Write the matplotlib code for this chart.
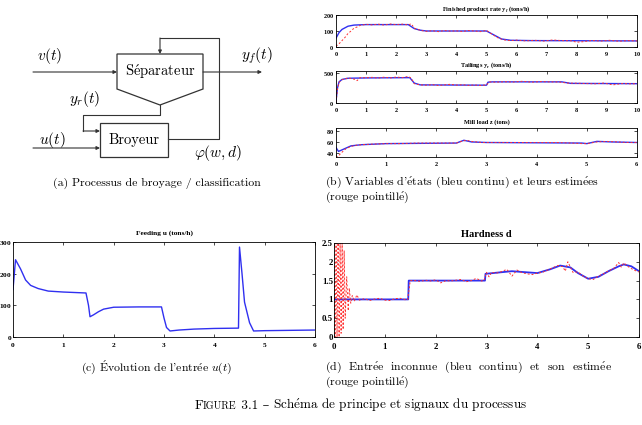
import matplotlib
matplotlib.use("Agg")
import matplotlib.pyplot as plt
from matplotlib.patches import Polygon, Rectangle
from matplotlib.offsetbox import TextArea, HPacker, AnnotationBbox

plt.rcParams['mathtext.fontset'] = 'cm'
plt.rcParams['axes.formatter.use_mathtext'] = True
SERIF = ['cmr10', 'DejaVu Serif']
TIMES = 'Liberation Serif'

# ---- (b) finished product rate y_f
yf_t = [0, 0.1, 0.2, 0.4, 0.6, 1.0, 2.4, 2.6, 2.8, 3.0, 5.0, 5.3, 5.5, 5.8, 6.5, 10.0]
yf_true = [55, 90, 110, 130, 137, 140, 140, 115, 105, 100, 100, 70, 50, 42, 40, 38]
yf_est_t = [0, 0.1, 0.2, 0.3, 0.4, 0.5, 0.6, 0.7, 0.8, 1.0, 1.2, 1.4, 1.6, 1.8, 2.0, 2.2,
            2.4, 2.5, 2.6, 2.8, 3.0, 3.2, 3.4, 3.6, 3.8, 4.0, 4.2, 4.4, 4.6, 4.8, 5.0,
            5.2, 5.4, 5.6, 5.8, 6.0, 6.3, 6.6, 6.9, 7.2, 7.5, 7.8, 8.0, 8.2, 8.5, 8.8,
            9.1, 9.4, 9.7, 10.0]
yf_est = [5, 20, 40, 60, 85, 100, 118, 125, 135, 142, 138, 143, 137, 144, 140, 143,
          138, 145, 118, 104, 98, 102, 96, 103, 99, 101, 97, 103, 100, 96, 104,
          78, 55, 44, 40, 43, 38, 42, 37, 44, 40, 39, 30, 33, 41, 37,
          42, 36, 40, 38]

# ---- (b) tailings y_r
yr_t = [0, 0.05, 0.1, 0.2, 0.4, 1.0, 2.45, 2.6, 2.8, 5.0, 5.05, 5.2, 7.5, 7.8, 10.0]
yr_true = [30, 250, 350, 390, 410, 415, 420, 330, 300, 295, 345, 350, 350, 325, 320]
yr_est_t = [0, 0.05, 0.1, 0.2, 0.3, 0.4, 0.6, 0.7, 0.8, 1.0, 1.2, 1.4, 1.6, 1.8, 2.0,
            2.2, 2.4, 2.5, 2.6, 2.8, 3.0, 3.2, 3.4, 3.6, 3.8, 4.0, 4.2, 4.4, 4.6, 4.8,
            5.0, 5.1, 5.3, 5.6, 5.9, 6.2, 6.5, 6.8, 7.1, 7.4, 7.7, 8.0, 8.3, 8.6, 8.9,
            9.2, 9.5, 9.8, 10.0]
yr_est = [20, 230, 340, 385, 400, 415, 395, 370, 420, 418, 425, 412, 428, 415, 430,
          420, 440, 410, 320, 300, 295, 305, 290, 300, 310, 296, 303, 292, 298, 290,
          300, 350, 345, 352, 348, 360, 345, 355, 350, 348, 330, 328, 322, 318, 330,
          300, 322, 318, 320]

# ---- (b) mill load z
z_t = [0, 0.05, 0.15, 0.3, 0.5, 1.0, 2.4, 2.55, 2.7, 3.0, 4.9, 5.0, 5.2, 5.5, 6.0]
z_true = [50, 43, 47, 53, 55, 57, 58, 63, 60, 59, 58, 57, 61, 60, 59]
z_est_t = [0, 0.05, 0.1, 0.2, 0.3, 0.4, 0.5, 0.7, 1.0, 1.3, 1.6, 2.0, 2.4, 2.5, 2.6,
           2.7, 2.9, 3.2, 3.5, 3.8, 4.1, 4.4, 4.7, 4.9, 5.0, 5.2, 5.4, 5.6, 5.8, 6.0]
z_est = [32, 35, 40, 48, 52, 54, 55, 56, 57, 57, 58, 58, 58, 61, 63,
         61, 59, 59, 59, 59, 59, 59, 58, 57, 57, 60, 61, 60, 59, 59]

# ---- (c) feeding u
u_t = [0, 0.05, 0.15, 0.25, 0.35, 0.5, 0.7, 1.0, 1.45, 1.5, 1.53, 1.6, 1.7, 1.8, 2.0,
       2.5, 2.95, 3.0, 3.05, 3.12, 3.3, 3.6, 4.0, 4.48, 4.5, 4.55, 4.6, 4.7, 4.78, 5.0, 6.0]
u_val = [150, 244, 215, 180, 163, 153, 145, 142, 139, 100, 64, 70, 80, 88, 94,
         95, 95, 60, 30, 19, 22, 25, 27, 28, 284, 200, 110, 45, 19, 20, 22]

# ---- (d) hardness d
d_t = [0, 1.46, 1.47, 2.97, 2.98, 3.2, 3.5, 3.8, 4.0, 4.25, 4.45, 4.65, 4.8, 5.0, 5.2,
       5.4, 5.6, 5.7, 5.85, 6.0]
d_true = [1.0, 1.0, 1.5, 1.5, 1.68, 1.71, 1.75, 1.72, 1.7, 1.8, 1.9, 1.85, 1.7, 1.55, 1.6,
          1.75, 1.88, 1.93, 1.88, 1.75]
d_est_t = [0, 0.02, 0.04, 0.06, 0.08, 0.1, 0.12, 0.14, 0.16, 0.18, 0.2, 0.22, 0.25,
           0.28, 0.3, 0.33, 0.36, 0.4, 0.45, 0.5, 0.6, 0.7, 0.8, 0.9, 1.0, 1.1, 1.2,
           1.3, 1.4, 1.45, 1.5, 1.6, 1.7, 1.8, 1.9, 2.0, 2.1, 2.2, 2.3, 2.4, 2.5, 2.6,
           2.7, 2.8, 2.9, 2.95, 3.0, 3.05, 3.1, 3.2, 3.3, 3.4, 3.5, 3.6, 3.7, 3.8, 3.9,
           4.0, 4.1, 4.2, 4.3, 4.4, 4.5, 4.55, 4.6, 4.7, 4.8, 4.9, 5.0, 5.1, 5.2, 5.3,
           5.4, 5.5, 5.6, 5.65, 5.7, 5.8, 5.9, 6.0]
d_est = [2.5, 0.0, 2.5, 0.0, 2.5, 0.0, 2.5, 0.1, 2.5, 0.2, 2.3, 0.5, 1.6,
         0.7, 1.3, 0.9, 1.1, 0.95, 1.12, 0.98, 1.02, 0.97, 1.01, 1.03, 0.98, 0.97, 1.02,
         1.03, 0.99, 1.0, 1.5, 1.5, 1.48, 1.51, 1.49, 1.52, 1.44, 1.5, 1.49, 1.51, 1.53, 1.47,
         1.5, 1.56, 1.49, 1.5, 1.72, 1.6, 1.72, 1.7, 1.74, 1.8, 1.62, 1.78, 1.71, 1.68, 1.66,
         1.7, 1.72, 1.78, 1.84, 1.9, 1.87, 1.75, 2.0, 1.72, 1.73, 1.62, 1.55, 1.53, 1.62, 1.68,
         1.76, 1.82, 1.98, 1.86, 1.97, 1.86, 1.78, 1.73]

BLUE = '#3030f0'
RED = '#ff3030'
W, H = 642, 425


def box(x0, y0, x1, y1):
    return [x0 / W, 1 - y1 / H, (x1 - x0) / W, (y1 - y0) / H]


def acc(s):
    # cmr10 has no accented letters: build them with mathtext accents
    return (s.replace('é', r'$\mathrm{\acute{e}}$')
             .replace('É', r'$\mathrm{\acute{E}}$'))


def matlab_axes(ax, fs, xt, yt, pad=1.2, xpad=None):
    ax.set_xticks(xt)
    ax.set_yticks(yt)
    ax.tick_params(direction='in', top=True, right=True, length=2, width=0.5,
                   pad=pad, labelsize=fs)
    if xpad is not None:
        ax.tick_params(axis='x', pad=xpad)
    for lab in ax.get_xticklabels() + ax.get_yticklabels():
        lab.set_family(TIMES)
        lab.set_weight('bold')
    for s in ax.spines.values():
        s.set_linewidth(0.6)


fig = plt.figure(figsize=(6.42, 4.25), dpi=100)
cv = fig.add_axes([0, 0, 1, 1])
cv.set_xlim(0, W)
cv.set_ylim(H, 0)
cv.axis('off')

# ---------------- (a) block diagram
lc = '#333333'
cv.add_patch(Polygon([(117, 54), (203, 54), (203, 89), (160, 105), (117, 89)],
                     closed=True, fill=False, ec=lc, lw=0.9))
cv.add_patch(Rectangle((100, 123), 68, 34, fill=False, ec=lc, lw=0.9))
ap = dict(arrowstyle='-|>', color=lc, lw=0.8, mutation_scale=5, shrinkA=0, shrinkB=0)
cv.annotate('', xy=(117, 72), xytext=(33, 72), arrowprops=ap)
cv.annotate('', xy=(262, 72), xytext=(203, 72), arrowprops=ap)
cv.plot([168, 219, 219, 160], [139, 139, 38, 38], color=lc, lw=0.8)
cv.annotate('', xy=(160, 54), xytext=(160, 38), arrowprops=ap)
cv.plot([160, 160, 83, 83], [105, 115, 115, 131], color=lc, lw=0.8)
cv.annotate('', xy=(100, 131), xytext=(83, 131), arrowprops=ap)
cv.annotate('', xy=(100, 148), xytext=(33, 148), arrowprops=ap)
cv.text(160, 72, acc('Séparateur'), family=SERIF, fontsize=10.5, ha='center', va='center')
cv.text(134, 140, 'Broyeur', family=SERIF, fontsize=10.5, ha='center', va='center')
cv.text(50, 56, r'$v(t)$', fontsize=11, ha='center', va='center')
cv.text(257, 56, r'$y_f(t)$', fontsize=11, ha='center', va='center')
cv.text(85, 99, r'$y_r(t)$', fontsize=11, ha='center', va='center')
cv.text(52, 140, r'$u(t)$', fontsize=11, ha='center', va='center')
cv.text(218, 153, r'$\varphi(w,d)$', fontsize=11, ha='center', va='center')

# ---------------- captions
cap = dict(family=SERIF, fontsize=8.5, va='center')
cv.text(157, 183, '(a) Processus de broyage / classification', ha='center', **cap)
cv.text(325, 182, acc("(b) Variables d'états (bleu continu) et leurs estimées"), ha='left', **cap)
cv.text(325, 197, acc('(rouge pointillé)'), ha='left', **cap)
cv.text(157, 367, acc("(c) Évolution de l'entrée $u(t)$"), ha='center', **cap)
cv.text(325, 367, acc("(d)  Entrée  inconnue  (bleu  continu)  et  son  estimée"), ha='left', **cap)
cv.text(325, 382, acc('(rouge pointillé)'), ha='left', **cap)

parts = [TextArea('F', textprops=dict(family=SERIF, fontsize=9.5)),
         TextArea('IGURE', textprops=dict(family=SERIF, fontsize=7.3)),
         TextArea(' 3.1 – ', textprops=dict(family=SERIF, fontsize=9.5)),
         TextArea(acc('Schéma de principe et signaux du processus'),
                  textprops=dict(family=SERIF, fontsize=9.5))]
pack = HPacker(children=parts, align='baseline', pad=0, sep=0)
cv.add_artist(AnnotationBbox(pack, (361, 405), frameon=False, box_alignment=(0.5, 0.5)))

# ---------------- (b) three small plots
ax1 = fig.add_axes(box(336, 15, 637, 47))
ax1.plot(yf_t, yf_true, color=BLUE, lw=1.0)
ax1.plot(yf_est_t, yf_est, color=RED, lw=0.7, ls=(0, (2, 2)))
ax1.set_xlim(0, 10)
ax1.set_ylim(0, 200)
matlab_axes(ax1, 4.5, range(0, 11), [0, 100, 200], xpad=1.8)
ax1.set_title(r'Finished product rate $\mathbf{y_f}$ (tons/h)', fontsize=4.5,
              family=TIMES, weight='bold', pad=3)

ax2 = fig.add_axes(box(336, 71, 637, 103))
ax2.plot(yr_t, yr_true, color=BLUE, lw=1.0)
ax2.plot(yr_est_t, yr_est, color=RED, lw=0.7, ls=(0, (2, 2)))
ax2.set_xlim(0, 10)
ax2.set_ylim(0, 530)
matlab_axes(ax2, 4.5, range(0, 11), [0, 500], xpad=1.8)
ax2.set_title(r'Tailings $\mathbf{y_r}$ (tons/h)', fontsize=4.5,
              family=TIMES, weight='bold', pad=3)

ax3 = fig.add_axes(box(336, 128, 637, 157))
ax3.plot(z_t, z_true, color=BLUE, lw=1.0)
ax3.plot(z_est_t, z_est, color=RED, lw=0.7, ls=(0, (2, 2)))
ax3.set_xlim(0, 6)
ax3.set_ylim(33, 85)
matlab_axes(ax3, 4.5, range(0, 7), [40, 60, 80], xpad=1.8)
ax3.set_title('Mill load z (tons)', fontsize=4.5, family=TIMES, weight='bold', pad=3)

# ---------------- (c) feeding
axc = fig.add_axes(box(13, 242, 315, 337))
axc.plot(u_t, u_val, color=BLUE, lw=1.0)
axc.set_xlim(0, 6)
axc.set_ylim(0, 300)
matlab_axes(axc, 5.3, range(0, 7), [0, 100, 200, 300], pad=0.6, xpad=3.0)
axc.set_title('Feeding u (tons/h)', fontsize=5.3, family=TIMES, weight='bold', pad=5)

# ---------------- (d) hardness
axd = fig.add_axes(box(334, 243, 639, 337))
axd.plot(d_t, d_true, color=BLUE, lw=1.3)
axd.plot(d_est_t, d_est, color=RED, lw=0.7, ls=(0, (2, 2)))
axd.set_xlim(0, 6)
axd.set_ylim(0, 2.5)
matlab_axes(axd, 6.3, range(0, 7), [0, 0.5, 1, 1.5, 2, 2.5], pad=0.8, xpad=3.2)
axd.set_yticklabels(['0', '0.5', '1', '1.5', '2', '2.5'], family=TIMES, weight='bold')
axd.set_title('Hardness d', fontsize=7.5, family=TIMES, weight='bold', pad=4)

fig.savefig('out.png', dpi=100)
